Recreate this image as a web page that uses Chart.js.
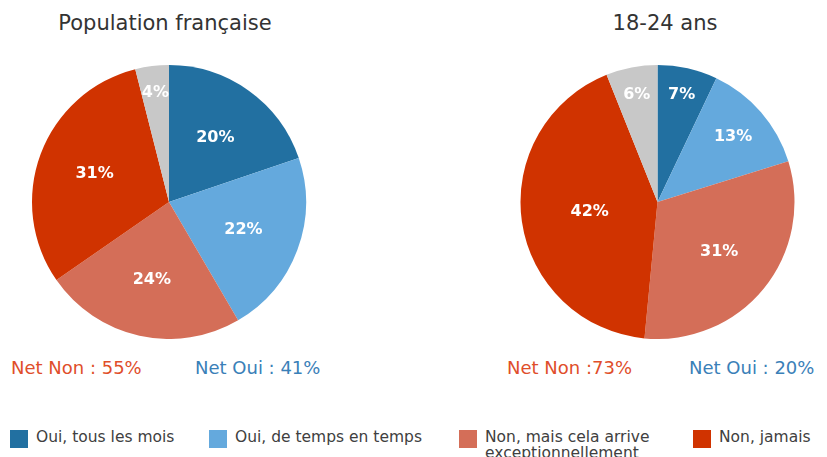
<!DOCTYPE html>
<html>
<head>
<meta charset="utf-8">
<script src="https://cdn.jsdelivr.net/npm/chart.js@4/dist/chart.umd.min.js"></script>
<style>
  html, body { margin:0; padding:0; background:#fff; }
  body { width:827px; height:457px; position:relative; overflow:hidden; font-family:"DejaVu Sans", sans-serif; }
  .box { position:absolute; }
  .title { position:absolute; font-size:21px; color:#333; white-space:nowrap; transform:translateX(-50%); top:11px; }
  .net { position:absolute; font-size:18px; white-space:nowrap; top:357px; }
  .leg { position:absolute; top:429px; font-size:15.5px; color:#404040; line-height:16px; white-space:nowrap; }
  .sw { position:absolute; top:430px; width:18px; height:18px; }
</style>
</head>
<body>
<div class="title" style="left:165px">Population française</div>
<div class="title" style="left:665px">18-24 ans</div>
<div class="box" style="left:29px;top:65px;width:280px;height:274px"><canvas id="c1"></canvas></div>
<div class="box" style="left:517px;top:65px;width:281px;height:274px"><canvas id="c2"></canvas></div>
<div class="net" style="left:11px;color:#E04E2A">Net Non : 55%</div>
<div class="net" style="left:195px;color:#3A80B8">Net Oui : 41%</div>
<div class="net" style="left:507px;color:#E04E2A">Net Non :73%</div>
<div class="net" style="left:689px;color:#3A80B8">Net Oui : 20%</div>
<div id="legend"></div>
<script>
const categories = ["Oui, tous les mois", "Oui, de temps en temps", "Non, mais cela arrive exceptionnellement", "Non, jamais", "Ne se prononce pas"];
const populationValues = [20, 22, 24, 31, 4];
const youngValues = [7, 13, 31, 42, 6];
const colors = ["#2270A1", "#64A9DD", "#D46E58", "#D03300", "#C8C8C8"];

const labelPlugin = {
  id: 'pctLabels',
  afterDatasetsDraw(chart) {
    const ctx = chart.ctx;
    const meta = chart.getDatasetMeta(0);
    const data = chart.data.datasets[0].data;
    const total = data.reduce((a, b) => a + b, 0);
    ctx.save();
    ctx.fillStyle = '#fff';
    ctx.font = 'bold 16px "DejaVu Sans"';
    ctx.textAlign = 'center';
    ctx.textBaseline = 'middle';
    meta.data.forEach((arc, i) => {
      const p = arc.getProps(['x','y','startAngle','endAngle','outerRadius'], true);
      const mid = (p.startAngle + p.endAngle) / 2;
      const frac = data[i] / total;
      let k = frac < 0.1 ? 0.8 : (frac < 0.16 ? 0.73 : (frac > 0.38 ? 0.5 : 0.58));
      const r = p.outerRadius * k;
      ctx.fillText(data[i] + '%', p.x + Math.cos(mid) * r, p.y + Math.sin(mid) * r);
    });
    ctx.restore();
  }
};

function makePie(id, values) {
  new Chart(document.getElementById(id), {
    type: 'pie',
    data: { labels: categories, datasets: [{ data: values, backgroundColor: colors, borderWidth: 0 }] },
    options: {
      responsive: true, maintainAspectRatio: false, animation: false,
      layout: { padding: 0 },
      plugins: { legend: { display: false }, tooltip: { enabled: false } }
    },
    plugins: [labelPlugin]
  });
}
makePie('c1', populationValues);
makePie('c2', youngValues);

const legendX = [10, 209, 459, 693];
const legendLabels = ["Oui, tous les mois", "Oui, de temps en temps", "Non, mais cela arrive<br>exceptionnellement", "Non, jamais"];
const lg = document.getElementById('legend');
legendX.forEach((x, i) => {
  const s = document.createElement('div');
  s.className = 'sw'; s.style.left = x + 'px'; s.style.background = colors[i];
  lg.appendChild(s);
  const t = document.createElement('div');
  t.className = 'leg'; t.style.left = (x + 26) + 'px';
  t.innerHTML = legendLabels[i];
  lg.appendChild(t);
});
</script>
</body>
</html>
